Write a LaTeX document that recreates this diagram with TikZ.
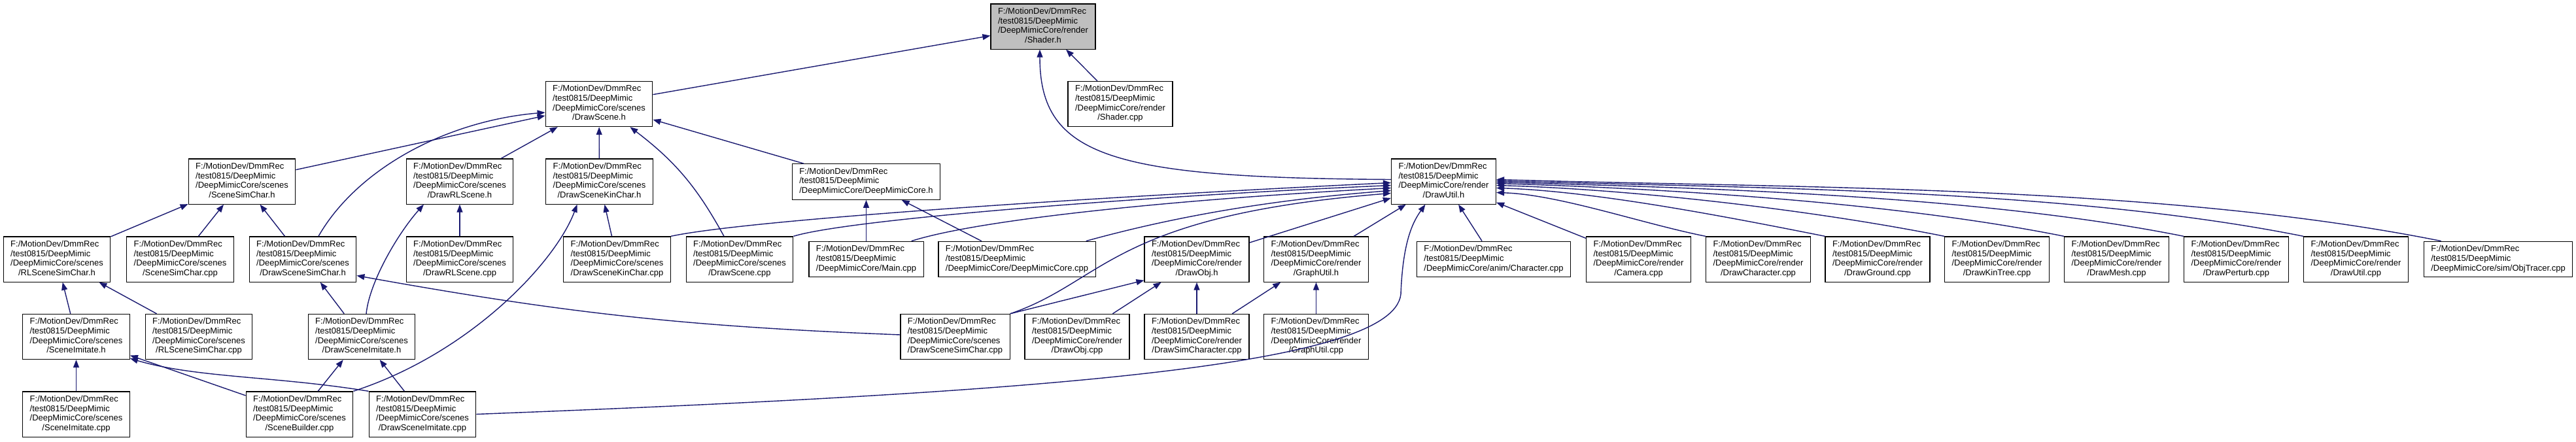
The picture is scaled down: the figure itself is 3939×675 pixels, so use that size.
\documentclass[tikz,border=0pt]{standalone}
\usepackage{fontspec}
\setmainfont{Liberation Sans}
\usepackage{tikz}
\usetikzlibrary{arrows.meta,calc}
\definecolor{edgeblue}{HTML}{191970}
\definecolor{rootgray}{HTML}{BFBFBF}
\newcommand{\dmpath}[2]{\begin{tabular}{@{}l@{}}F:/MotionDev/DmmRec\\/test0815/DeepMimic\\/DeepMimicCore/#1\\\multicolumn{1}{@{}c@{}}{/#2}\end{tabular}}
\newcommand{\dmshort}[1]{\begin{tabular}{@{}l@{}}F:/MotionDev/DmmRec\\/test0815/DeepMimic\\/DeepMimicCore/#1\end{tabular}}

\begin{document}
\begin{tikzpicture}[
  x=0.5pt,y=-0.5pt,
  filebox/.style={draw=black,fill=white,line width=0.6pt,inner xsep=5.5pt,inner ysep=2.6pt,font=\fontsize{6.5}{7.35}\selectfont},
  root/.style={filebox,fill=rootgray},
  arrow/.style={draw=edgeblue,line width=0.7pt,-{Triangle[length=6pt,width=4.5pt]}}
]
\useasboundingbox (0,0) rectangle (3939,675);
\node[root] (shaderh) at (1595,40.5) {\dmpath{render}{Shader.h}};
\node[filebox] (drawsceneh) at (916,159) {\dmpath{scenes}{DrawScene.h}};
\node[filebox] (shadercpp) at (1713,159) {\dmpath{render}{Shader.cpp}};
\node[filebox] (scenesimcharh) at (370,277.5) {\dmpath{scenes}{SceneSimChar.h}};
\node[filebox] (drawrlsceneh) at (703,277.5) {\dmpath{scenes}{DrawRLScene.h}};
\node[filebox] (drawscenekincharh) at (916.5,277.5) {\dmpath{scenes}{DrawSceneKinChar.h}};
\node[filebox] (deepmimiccoreh) at (1324.5,278) {\dmshort{DeepMimicCore.h}};
\node[filebox] (drawutilh) at (2207.5,277.5) {\dmpath{render}{DrawUtil.h}};
\node[filebox] (rlscenesimcharh) at (87,396.5) {\dmpath{scenes}{RLSceneSimChar.h}};
\node[filebox] (scenesimcharcpp) at (275.5,396.5) {\dmpath{scenes}{SceneSimChar.cpp}};
\node[filebox] (drawscenesimcharh) at (463,396.5) {\dmpath{scenes}{DrawSceneSimChar.h}};
\node[filebox] (drawrlscenecpp) at (703,396.5) {\dmpath{scenes}{DrawRLScene.cpp}};
\node[filebox] (drawscenekincharcpp) at (943.5,396.5) {\dmpath{scenes}{DrawSceneKinChar.cpp}};
\node[filebox] (drawscenecpp) at (1131,396.5) {\dmpath{scenes}{DrawScene.cpp}};
\node[filebox] (maincpp) at (1324.5,396.5) {\dmshort{Main.cpp}};
\node[filebox] (deepmimiccorecpp) at (1555,396.5) {\dmshort{DeepMimicCore.cpp}};
\node[filebox] (drawobjh) at (1830,396.5) {\dmpath{render}{DrawObj.h}};
\node[filebox] (graphutilh) at (2012.5,396.5) {\dmpath{render}{GraphUtil.h}};
\node[filebox] (charactercpp) at (2284,396.5) {\dmshort{anim/Character.cpp}};
\node[filebox] (cameracpp) at (2505.5,396.5) {\dmpath{render}{Camera.cpp}};
\node[filebox] (drawcharactercpp) at (2688.5,396.5) {\dmpath{render}{DrawCharacter.cpp}};
\node[filebox] (drawgroundcpp) at (2871,396.5) {\dmpath{render}{DrawGround.cpp}};
\node[filebox] (drawkintreecpp) at (3053.5,396.5) {\dmpath{render}{DrawKinTree.cpp}};
\node[filebox] (drawmeshcpp) at (3236.5,396.5) {\dmpath{render}{DrawMesh.cpp}};
\node[filebox] (drawperturbcpp) at (3419.5,396.5) {\dmpath{render}{DrawPerturb.cpp}};
\node[filebox] (drawutilcpp) at (3602.5,396.5) {\dmpath{render}{DrawUtil.cpp}};
\node[filebox] (objtracercpp) at (3820,396.5) {\dmshort{sim/ObjTracer.cpp}};
\node[filebox] (sceneimitateh) at (116.5,515) {\dmpath{scenes}{SceneImitate.h}};
\node[filebox] (rlscenesimcharcpp) at (304,515) {\dmpath{scenes}{RLSceneSimChar.cpp}};
\node[filebox] (drawsceneimitateh) at (553,515) {\dmpath{scenes}{DrawSceneImitate.h}};
\node[filebox] (drawscenesimcharcpp) at (1460.5,515) {\dmpath{scenes}{DrawSceneSimChar.cpp}};
\node[filebox] (drawobjcpp) at (1647,515) {\dmpath{render}{DrawObj.cpp}};
\node[filebox] (drawsimcharactercpp) at (1830,515) {\dmpath{render}{DrawSimCharacter.cpp}};
\node[filebox] (graphutilcpp) at (2012.5,515) {\dmpath{render}{GraphUtil.cpp}};
\node[filebox] (sceneimitatecpp) at (116.5,633.5) {\dmpath{scenes}{SceneImitate.cpp}};
\node[filebox] (scenebuildercpp) at (458,633.5) {\dmpath{scenes}{SceneBuilder.cpp}};
\node[filebox] (drawsceneimitatecpp) at (646,633.5) {\dmpath{scenes}{DrawSceneImitate.cpp}};
\draw[arrow] (drawsceneh) -- (shaderh);
\draw[arrow] (shadercpp) -- (shaderh);
\draw[arrow] ($(drawutilh.west)+(0,-3)$) .. controls (1700,272) and (1590,240) .. ($(shaderh.south)+(-5,0)$);
\draw[arrow] (scenesimcharh) -- (drawsceneh);
\draw[arrow] ($(drawscenesimcharh.north)+(24,0)$) .. controls (545,260) and (680,185) .. ($(drawsceneh.west)+(0,13)$);
\draw[arrow] (drawrlsceneh) -- (drawsceneh);
\draw[arrow] (drawscenekincharh) -- (drawsceneh);
\draw[arrow] ($(drawscenecpp.north)+(-24,0)$) to[bend right=12] ($(drawsceneh.south east)+(-35,0)$);
\draw[arrow] (deepmimiccoreh) -- (drawsceneh);
\draw[arrow] (rlscenesimcharh) -- (scenesimcharh);
\draw[arrow] (scenesimcharcpp) -- (scenesimcharh);
\draw[arrow] (drawscenesimcharh) -- (scenesimcharh);
\draw[arrow] (drawrlscenecpp) -- (drawrlsceneh);
\draw[arrow] ($(drawsceneimitateh.north)+(7,0)$) .. controls (565,430) and (610,355) .. ($(drawrlsceneh.south)+(-55,0)$);
\draw[arrow] (drawscenekincharcpp) -- (drawscenekincharh);
\draw[arrow] (scenebuildercpp.north east) .. controls (720,540) and (850,400) .. ($(drawscenekincharh.south)+(-34,0)$);
\draw[arrow] (maincpp) -- (deepmimiccoreh);
\draw[arrow] (deepmimiccorecpp) -- (deepmimiccoreh);
\draw[arrow] (drawscenekincharcpp.north east) .. controls (1150,335) and (1700,300) .. ($(drawutilh.west)+(0,2)$);
\draw[arrow] (drawscenecpp.north east) .. controls (1300,335) and (1750,300) .. ($(drawutilh.west)+(0,6)$);
\draw[arrow] ($(maincpp.north east)+(-19,0)$) .. controls (1500,335) and (1800,305) .. ($(drawutilh.west)+(0,10)$);
\draw[arrow] ($(deepmimiccorecpp.north east)+(-15,0)$) .. controls (1800,330) and (1950,305) .. ($(drawutilh.west)+(0,14)$);
\draw[arrow] (drawscenesimcharcpp.north east) .. controls (1690,430) and (1700,330) .. ($(drawutilh.west)+(0,18)$);
\draw[arrow] (drawobjh) -- (drawutilh);
\draw[arrow] (graphutilh) -- (drawutilh);
\draw[arrow] (drawsceneimitatecpp.east) .. controls (1600,600) and (2130,560) .. (2142,450) .. controls (2145,370) and (2160,340) .. ($(drawutilh.south)+(-28,0)$);
\draw[arrow] (charactercpp) -- (drawutilh);
\draw[arrow] (cameracpp) -- (drawutilh);
\draw[arrow] (drawcharactercpp.north west) .. controls +(-96,-19) and +(96,3) .. ($(drawutilh.east)+(0,17)$);
\draw[arrow] (drawgroundcpp.north west) .. controls +(-151,-30) and +(151,5) .. ($(drawutilh.east)+(0,10)$);
\draw[arrow] (drawkintreecpp.north west) .. controls +(-205,-41) and +(205,6) .. ($(drawutilh.east)+(0,6)$);
\draw[arrow] (drawmeshcpp.north west) .. controls +(-260,-52) and +(260,8) .. ($(drawutilh.east)+(0,3)$);
\draw[arrow] (drawperturbcpp.north west) .. controls +(-315,-63) and +(315,9) .. ($(drawutilh.east)+(0,1)$);
\draw[arrow] (drawutilcpp.north west) .. controls +(-370,-74) and +(370,11) .. ($(drawutilh.east)+(0,-1)$);
\draw[arrow] ($(objtracercpp.north west)+(27,0)$) .. controls +(-433,-87) and +(433,13) .. ($(drawutilh.east)+(0,-3)$);
\draw[arrow] (sceneimitateh) -- (rlscenesimcharh);
\draw[arrow] (rlscenesimcharcpp) -- (rlscenesimcharh);
\draw[arrow] (drawsceneimitateh) -- (drawscenesimcharh);
\draw[arrow] ($(drawscenesimcharcpp.west)+(0,-3)$) to[bend left=4] ($(drawscenesimcharh.east)+(0,25)$);
\draw[arrow] (sceneimitatecpp) -- (sceneimitateh);
\draw[arrow] (scenebuildercpp) -- (sceneimitateh);
\draw[arrow] (drawsceneimitatecpp.north west) .. controls (420,575) and (300,578) .. ($(sceneimitateh.south east)+(0,-2)$);
\draw[arrow] (scenebuildercpp) -- (drawsceneimitateh);
\draw[arrow] (drawsceneimitatecpp) -- (drawsceneimitateh);
\draw[arrow] (drawscenesimcharcpp.north east) -- ($(drawobjh.south west)+(0,-3)$);
\draw[arrow] (drawobjcpp) -- (drawobjh);
\draw[arrow] (drawsimcharactercpp) -- (drawobjh);
\draw[arrow] (drawsimcharactercpp) -- (graphutilh);
\draw[arrow] (graphutilcpp) -- (graphutilh);
\end{tikzpicture}
\end{document}
